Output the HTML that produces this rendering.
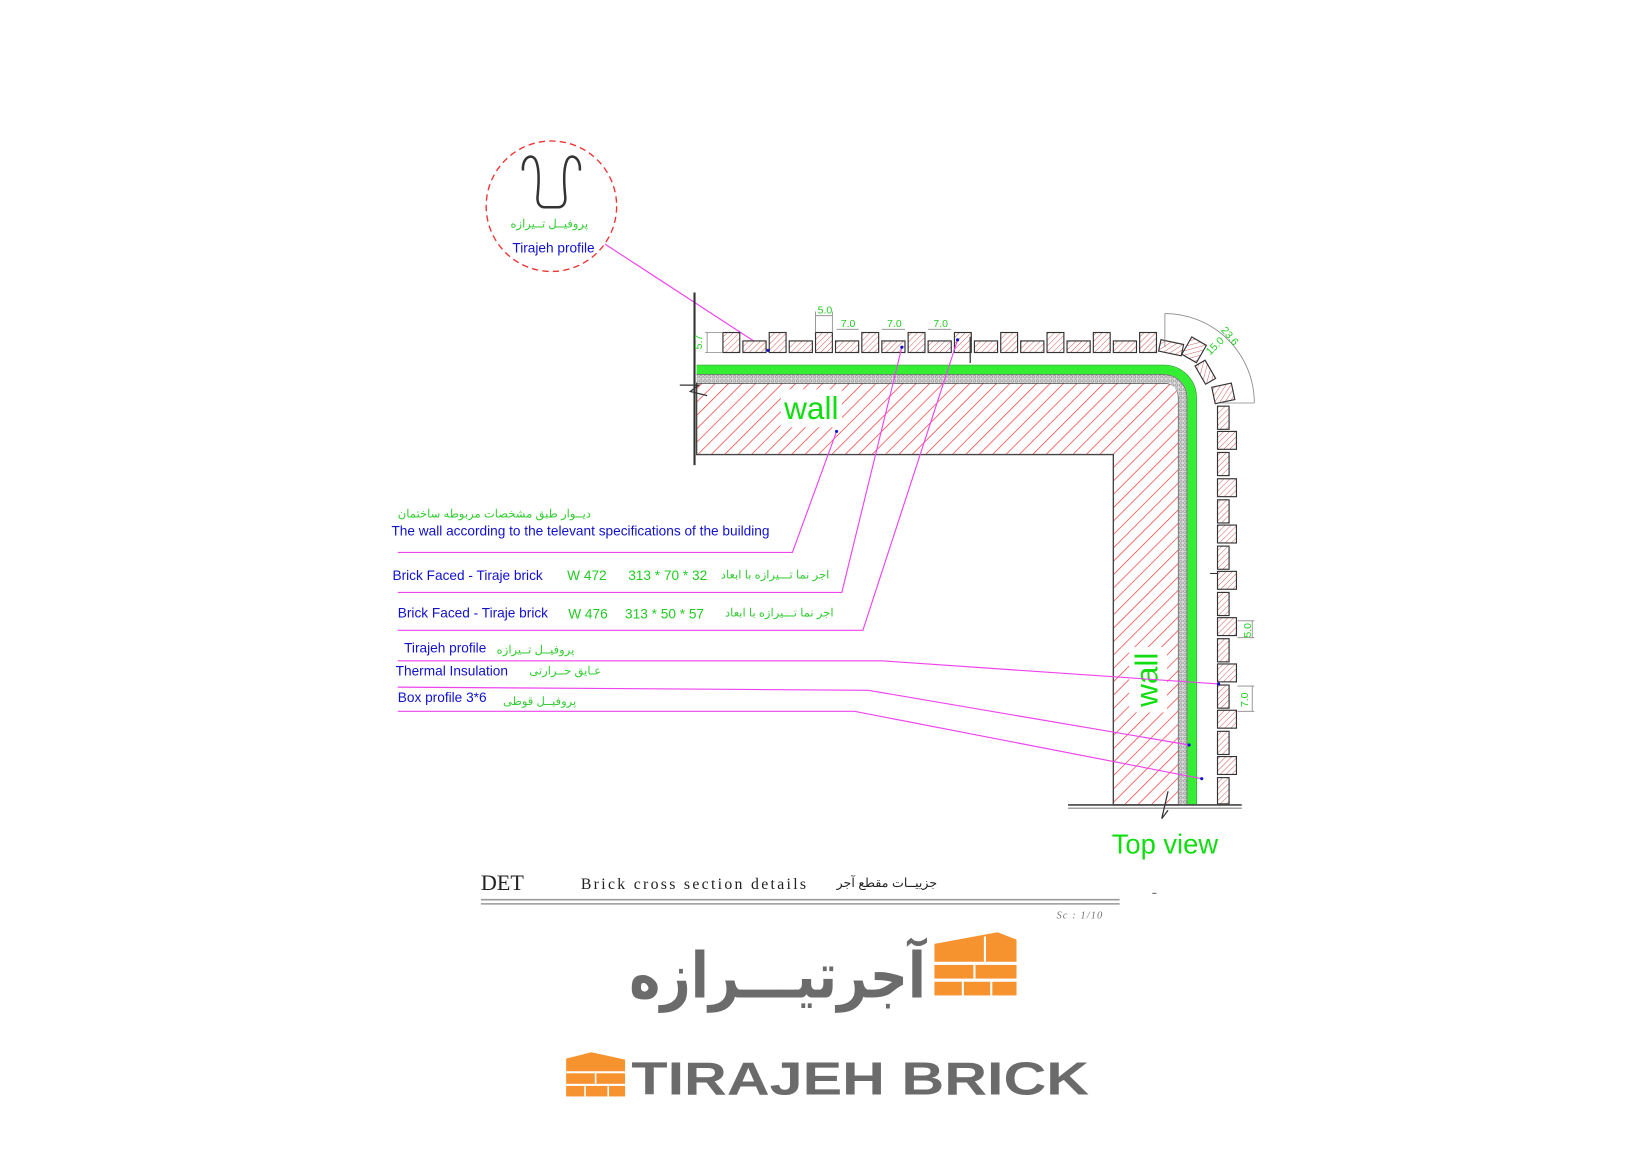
<!DOCTYPE html>
<html><head><meta charset="utf-8"><style>
html,body{margin:0;padding:0;background:#fff;width:1650px;height:1168px;overflow:hidden}
svg{display:block}
</style></head><body>
<svg width="1650" height="1168" viewBox="0 0 1568 1110" preserveAspectRatio="none" xmlns="http://www.w3.org/2000/svg" font-family="Liberation Sans, Noto Sans CJK SC, sans-serif">
<defs>
<pattern id="hw" width="9" height="9" patternUnits="userSpaceOnUse" patternTransform="rotate(45)">
<rect width="9" height="9" fill="#fff"/><line x1="0" y1="0" x2="0" y2="9" stroke="#e33" stroke-width="1.3"/></pattern>
<pattern id="hb" width="4" height="4" patternUnits="userSpaceOnUse" patternTransform="rotate(45)">
<rect width="4" height="4" fill="#fff"/><line x1="0" y1="0" x2="0" y2="4" stroke="#c55" stroke-width="0.9"/></pattern>
<pattern id="gr" width="4" height="4" patternUnits="userSpaceOnUse">
<rect width="4" height="4" fill="#ddd"/><circle cx="2" cy="2" r="1.3" fill="none" stroke="#888" stroke-width="0.6"/></pattern>
</defs>

<!-- detail circle -->
<ellipse cx="524" cy="196" rx="62" ry="62" fill="none" stroke="#e33" stroke-width="1.3" stroke-dasharray="6,4"/>
<path d="M497,162 C496,150 505,145 509,152 C513,160 512,175 511,185 C510,192 512,197 518,197 L530,197 C536,197 538,192 537,185 C536,175 535,160 539,152 C543,145 552,150 551,162" fill="none" stroke="#333" stroke-width="2.4"/>
<text x="522" y="216" font-size="11" fill="#3c3" text-anchor="middle">پروفیــل تــیرازه</text>
<text x="526" y="240" font-size="13" fill="#11c" text-anchor="middle">Tirajeh profile</text>
<line x1="575" y1="232" x2="730" y2="333" stroke="#e4e" stroke-width="1.1"/>

<!-- wall -->
<path d="M662,364 H1106 Q1120,364 1120,378 V765 H1058 V432 H662 Z" fill="url(#hw)" stroke="#444" stroke-width="1.3"/>
<rect x="742" y="370" width="58" height="36" fill="#fff"/>
<text x="771" y="398" font-size="30" fill="#1d1" text-anchor="middle">wall</text>
<rect x="1073" y="615" width="36" height="62" fill="#fff"/>
<text transform="translate(1100,646) rotate(-90)" font-size="30" fill="#1d1" text-anchor="middle">wall</text>
<path d="M662,360 H1106 A18,18 0 0 1 1124,378 V765" fill="none" stroke="url(#gr)" stroke-width="8"/>
<path d="M662,356 H1106 A22,22 0 0 1 1128,378 V765" fill="none" stroke="#666" stroke-width="0.8"/>
<path d="M662,351.5 H1106 A26.5,26.5 0 0 1 1132.5,378 V765" fill="none" stroke="#3e3" stroke-width="8"/>
<path d="M662,347 H1106 A31,31 0 0 1 1137,378 V765" fill="none" stroke="#1a1" stroke-width="0.8"/>
<line x1="660" y1="278" x2="660" y2="442" stroke="#333" stroke-width="2"/>
<path d="M646,366 L664,366 L656,372 L672,376" fill="none" stroke="#333" stroke-width="1.2"/>

<!-- top bricks -->
<g fill="url(#hb)" stroke="#333" stroke-width="1.1">
<rect x="687" y="316" width="16" height="19"/><rect x="706" y="324" width="22" height="11"/>
<rect x="731" y="316" width="16" height="19"/><rect x="750" y="324" width="22" height="11"/>
<rect x="775" y="316" width="16" height="19"/><rect x="794" y="324" width="22" height="11"/>
<rect x="819" y="316" width="16" height="19"/><rect x="838" y="324" width="22" height="11"/>
<rect x="863" y="316" width="16" height="19"/><rect x="882" y="324" width="22" height="11"/>
<rect x="907" y="316" width="16" height="19"/><rect x="926" y="324" width="22" height="11"/>
<rect x="951" y="316" width="16" height="19"/><rect x="970" y="324" width="22" height="11"/>
<rect x="995" y="316" width="16" height="19"/><rect x="1014" y="324" width="22" height="11"/>
<rect x="1039" y="316" width="16" height="19"/><rect x="1058" y="324" width="22" height="11"/>
<rect x="1083" y="316" width="16" height="19"/>
<rect x="1102" y="325" width="22" height="11" transform="rotate(12 1113 330)"/>
<rect x="1127" y="323" width="16" height="19" transform="rotate(30 1135 332)"/>
<rect x="1140" y="344" width="11" height="20" transform="rotate(-30 1145 354)"/>
<rect x="1153" y="366" width="19" height="16" transform="rotate(-12 1162 374)"/>
<rect x="1157" y="386" width="11" height="22"/>
<rect x="1157" y="410" width="18" height="17"/><rect x="1157" y="430" width="11" height="22"/>
<rect x="1157" y="455" width="18" height="17"/><rect x="1157" y="475" width="11" height="22"/>
<rect x="1157" y="499" width="18" height="17"/><rect x="1157" y="519" width="11" height="22"/>
<rect x="1157" y="543" width="18" height="17"/><rect x="1157" y="563" width="11" height="22"/>
<rect x="1157" y="587" width="18" height="17"/><rect x="1157" y="607" width="11" height="22"/>
<rect x="1157" y="631" width="18" height="17"/><rect x="1157" y="651" width="11" height="22"/>
<rect x="1157" y="675" width="18" height="17"/><rect x="1157" y="695" width="11" height="22"/>
<rect x="1157" y="719" width="18" height="17"/><rect x="1157" y="739" width="11" height="25"/>
</g>
<line x1="922" y1="320" x2="922" y2="345" stroke="#333" stroke-width="1.2"/>
<line x1="1150" y1="545" x2="1157" y2="545" stroke="#333" stroke-width="1"/>
<g stroke="#888" stroke-width="0.8" fill="none">
<path d="M670,316 H686 M670,335 H686 M672,316 V335"/>
<path d="M775,300 H791 M775,296 V316 M791,296 V316"/>
<path d="M795,313 H816 M838,313 H860 M882,313 H904"/>
<path d="M1107,298 V330 M1107,298 A85,85 0 0 1 1192,383 M1160,383 H1192"/>
<path d="M1176,590 H1192 M1176,606 H1192 M1190,590 V606"/>
<path d="M1176,652 H1192 M1176,676 H1192 M1190,652 V676"/>
</g>
<g fill="#2c2" font-size="10">
<text x="777" y="298">5.0</text><text x="799" y="311">7.0</text><text x="843" y="311">7.0</text><text x="887" y="311">7.0</text>
<text transform="translate(667,332) rotate(-90)">5.7</text>
<text transform="translate(1160,314) rotate(50)">23.6</text>
<text transform="translate(1150,338) rotate(-45)">15.0</text>
<text transform="translate(1189,606) rotate(-90)">5.0</text>
<text transform="translate(1186,672) rotate(-90)">7.0</text>
</g>
<line x1="1015" y1="765" x2="1180" y2="765" stroke="#444" stroke-width="1.5"/>
<line x1="1015" y1="768" x2="1180" y2="768" stroke="#444" stroke-width="0.8"/>
<path d="M1110,752 L1104,778 L1110,770" fill="none" stroke="#333" stroke-width="1.2"/>
<text x="1107" y="811" font-size="26" fill="#1d1" text-anchor="middle">Top view</text>

<g stroke="#e4e" stroke-width="1.1" fill="none">
<polyline points="378,525 753,525 795,410"/>
<polyline points="378,563 800,563 857,330"/>
<polyline points="378,599 820,599 910,323"/>
<polyline points="378,628 838,628 1158,650"/>
<polyline points="378,653 825,656 1130,708"/>
<polyline points="378,676 812,676 1142,740"/>
</g>
<g fill="#11c">
<circle cx="795" cy="410" r="1.5"/><circle cx="857" cy="330" r="1.5"/><circle cx="910" cy="323" r="1.5"/>
<circle cx="730" cy="333" r="1.5"/><circle cx="1158" cy="650" r="1.5"/><circle cx="1130" cy="708" r="1.5"/><circle cx="1142" cy="740" r="1.5"/>
</g>
<g font-size="13">
<text x="378" y="492" font-size="11" fill="#3c3">دیــوار طبق مشخصات مربوطه ساختمان</text>
<text x="372" y="509" fill="#11c">The wall according to the televant specifications of the building</text>
<text x="373" y="551" fill="#11c">Brick Faced - Tiraje brick</text>
<text x="539" y="551" fill="#2c2">W 472</text><text x="597" y="551" fill="#2c2">313 * 70 * 32</text>
<text x="685" y="550" font-size="11" fill="#3c3">اجر نما تـــیرازه با ابعاد</text>
<text x="378" y="587" fill="#11c">Brick Faced - Tiraje brick</text>
<text x="540" y="588" fill="#2c2">W 476</text><text x="594" y="588" fill="#2c2">313 * 50 * 57</text>
<text x="689" y="586" font-size="11" fill="#3c3">اجر نما تـــیرازه با ابعاد</text>
<text x="384" y="620" fill="#11c">Tirajeh profile</text>
<text x="472" y="621" font-size="11" fill="#3c3">پروفیــل تــیرازه</text>
<text x="376" y="642" fill="#11c">Thermal Insulation</text>
<text x="503" y="641" font-size="11" fill="#3c3">عـایق حــرارتی</text>
<text x="378" y="667" fill="#11c">Box profile 3*6</text>
<text x="478" y="670" font-size="11" fill="#3c3">پروفیــل قوطی</text>
</g>

<text x="457" y="846" font-family="Liberation Serif, serif" font-size="21" fill="#222">DET</text>
<text x="552" y="845" font-family="Liberation Serif, serif" font-size="15" fill="#222" textLength="214" lengthAdjust="spacing">Brick  cross  section  details</text>
<text x="795" y="843" font-size="12" fill="#222">جزییــات مقطع آجر</text>
<line x1="457" y1="855" x2="1064" y2="855" stroke="#999" stroke-width="1.5"/>
<line x1="457" y1="859" x2="1064" y2="859" stroke="#999" stroke-width="1.5"/>
<line x1="1095" y1="849" x2="1099" y2="849" stroke="#666"/>
<text x="1004" y="873" font-family="Liberation Serif, serif" font-style="italic" font-size="10" fill="#777" letter-spacing="1">Sc : 1/10</text>

<text x="598" y="948" font-size="60" font-weight="bold" fill="#6b6b6b" textLength="282" lengthAdjust="spacingAndGlyphs" font-family="DejaVu Sans, sans-serif">آجرتیـــرازه</text>
<g fill="#f7932f">
<polygon points="888,897 948,886 966,893 966,914 888,914"/>
<rect x="888" y="917" width="78" height="13"/><rect x="888" y="933" width="78" height="13"/>
</g>
<g stroke="#fff" stroke-width="2"><line x1="926" y1="917" x2="926" y2="930"/><line x1="915" y1="933" x2="915" y2="946"/><line x1="942" y1="933" x2="942" y2="946"/><line x1="936" y1="890" x2="936" y2="914"/></g>
<g fill="#f7932f">
<polygon points="538,1006 562,1000 594,1007 594,1018 538,1018"/>
<rect x="538" y="1020" width="56" height="10"/><rect x="538" y="1032" width="56" height="10"/>
</g>
<g stroke="#fff" stroke-width="1.5"><line x1="566" y1="1020" x2="566" y2="1030"/><line x1="556" y1="1032" x2="556" y2="1042"/><line x1="578" y1="1032" x2="578" y2="1042"/></g>
<text x="600" y="1040" font-size="44" font-weight="bold" fill="#6b6b6b" textLength="435" lengthAdjust="spacingAndGlyphs">TIRAJEH BRICK</text>
</svg>
</body></html>
